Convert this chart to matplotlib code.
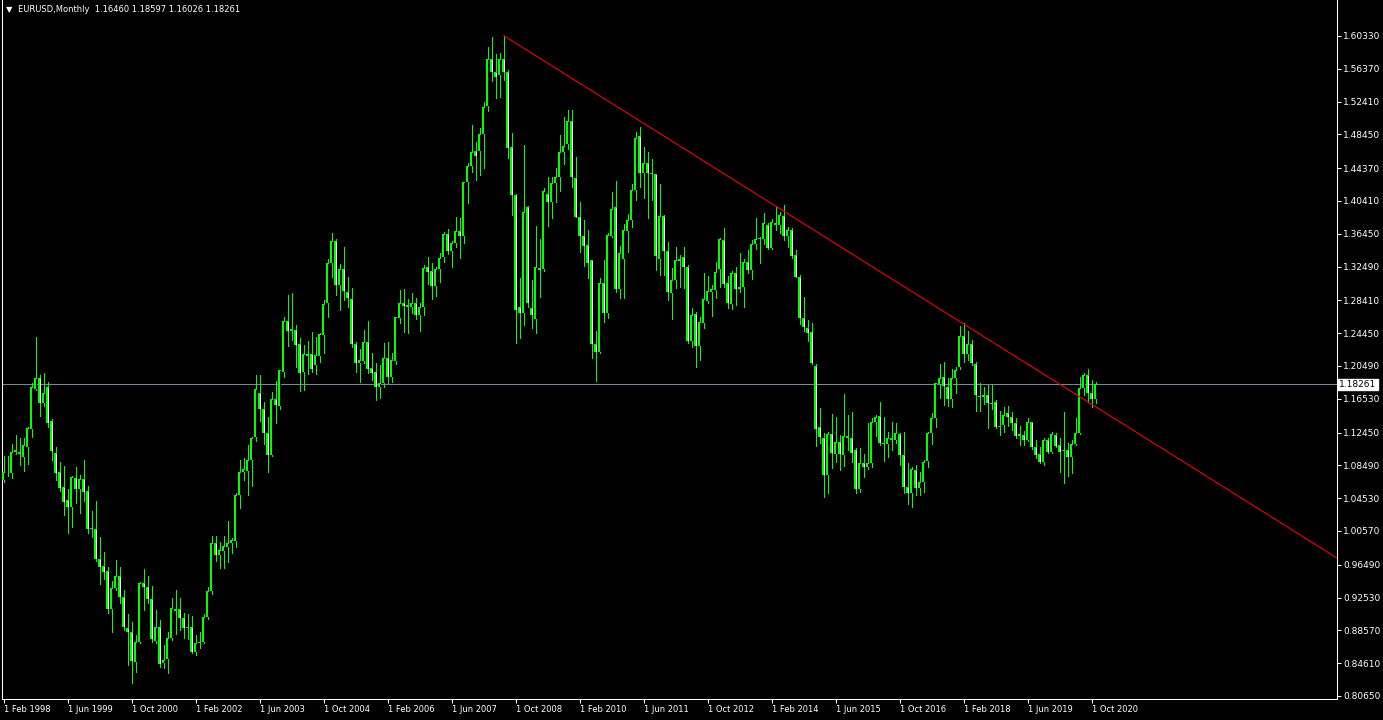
import matplotlib
matplotlib.use('Agg')
import matplotlib.pyplot as plt
import matplotlib.transforms as mtransforms
import numpy as np
import pandas as pd

plt.rcParams['font.family'] = 'DejaVu Sans'
plt.rcParams['font.size'] = 6.5

# ---- data (EURUSD monthly, Feb 1998 .. Nov 2020) ----
symbol = 'EURUSD,Monthly'
start_month = '1998-02-01'

opens = [
    1.0670, 1.0775, 1.0755, 1.1030, 1.1005, 1.0955, 1.1075, 1.1285, 1.1770, 1.1900, 1.1600,  # 1998
    1.1790, 1.1390, 1.0995, 1.0765, 1.0585, 1.0430, 1.0350, 1.0695, 1.0560, 1.0680, 1.0535, 1.0093,  # 1999
    1.0077, 0.9715, 0.9630, 0.9570, 0.9111, 0.9365, 0.9518, 0.9264, 0.8882, 0.8834, 0.8479, 0.8721,  # 2000
    0.9425, 0.9377, 0.9232, 0.8733, 0.8894, 0.8459, 0.8508, 0.8761, 0.9111, 0.9111, 0.9003, 0.8890,  # 2001
    0.8900, 0.8600, 0.8700, 0.8720, 0.9020, 0.9335, 0.9908, 0.9767, 0.9820, 0.9860, 0.9908, 0.9940,  # 2002
    1.0492, 1.0765, 1.0785, 1.0914, 1.1188, 1.1719, 1.1526, 1.1236, 1.0979, 1.1647, 1.1570, 1.1981,  # 2003
    1.2588, 1.2476, 1.2480, 1.2311, 1.1981, 1.2190, 1.2190, 1.2065, 1.2174, 1.2423, 1.2813, 1.3288,  # 2004
    1.3554, 1.3031, 1.3216, 1.2946, 1.2854, 1.2311, 1.2081, 1.2113, 1.2335, 1.2021, 1.1972, 1.1791,  # 2005
    1.1840, 1.2142, 1.1920, 1.2113, 1.2624, 1.2814, 1.2766, 1.2766, 1.2806, 1.2665, 1.2757, 1.3240,  # 2006
    1.3196, 1.3015, 1.3216, 1.3369, 1.3642, 1.3441, 1.3538, 1.3679, 1.3622, 1.4274, 1.4464, 1.4641,  # 2007
    1.4641, 1.4846, 1.5188, 1.5751, 1.5602, 1.5562, 1.5751, 1.5602, 1.4697, 1.4113, 1.2765, 1.2685,  # 2008
    1.3964, 1.2745, 1.2612, 1.3228, 1.3216, 1.4121, 1.4025, 1.4262, 1.4327, 1.4628, 1.4725, 1.5003,  # 2009
    1.4315, 1.3852, 1.3618, 1.3510, 1.3325, 1.2311, 1.2222, 1.3055, 1.2685, 1.3618, 1.3964, 1.2974,  # 2010
    1.3336, 1.3683, 1.3812, 1.4174, 1.4826, 1.4383, 1.4496, 1.4383, 1.4367, 1.3336, 1.3860, 1.3441,  # 2011
    1.2934, 1.3087, 1.3320, 1.3369, 1.3240, 1.2355, 1.2673, 1.2291, 1.2564, 1.2834, 1.2947, 1.2967,  # 2012
    1.3220, 1.3570, 1.3047, 1.2794, 1.3168, 1.2979, 1.3007, 1.3301, 1.3208, 1.3518, 1.3578, 1.3578,  # 2013
    1.3747, 1.3478, 1.3771, 1.3751, 1.3860, 1.3622, 1.3691, 1.3385, 1.3119, 1.2624, 1.2504, 1.2455,  # 2014
    1.2049, 1.1317, 1.1176, 1.0733, 1.1224, 1.0987, 1.1135, 1.0975, 1.1208, 1.1176, 1.1035, 1.0560,  # 2015
    1.0874, 1.0825, 1.0874, 1.1377, 1.1445, 1.1123, 1.1103, 1.1176, 1.1156, 1.1224, 1.0974, 1.0592,  # 2016
    1.0512, 1.0793, 1.0572, 1.0653, 1.0906, 1.1236, 1.1417, 1.1832, 1.1912, 1.1791, 1.1647, 1.1900,  # 2017
    1.2033, 1.2411, 1.2190, 1.2315, 1.2073, 1.1687, 1.1671, 1.1699, 1.1598, 1.1618, 1.1308, 1.1337,  # 2018
    1.1477, 1.1437, 1.1365, 1.1204, 1.1216, 1.1156, 1.1369, 1.1075, 1.0982, 1.0894, 1.1156, 1.1015,  # 2019
    1.1216, 1.1095, 1.1027, 1.1035, 1.0946, 1.1107, 1.1236, 1.1779, 1.1940, 1.1719, 1.16460,  # 2020
]
highs = [
    1.0960, 1.0960, 1.1105, 1.1215, 1.1185, 1.1175, 1.1315, 1.1840, 1.2395, 1.1940, 1.1960,
    1.1860, 1.1405, 1.1075, 1.0895, 1.0840, 1.0560, 1.0715, 1.0835, 1.0735, 1.0915, 1.0600, 1.0300,
    1.0420, 0.9990, 0.9800, 0.9626, 0.9457, 0.9707, 0.9618, 0.9345, 0.9055, 0.8962, 0.8801, 0.9437,
    0.9594, 0.9514, 0.9393, 0.9103, 0.8982, 0.8681, 0.8842, 0.9244, 0.9345, 0.9244, 0.9070, 0.9060,
    0.9030, 0.8800, 0.8840, 0.9060, 0.9380, 0.9995, 0.9997, 0.9928, 0.9997, 1.0178, 0.9968, 1.0520,
    1.0914, 1.0942, 1.1095, 1.1188, 1.1941, 1.1941, 1.1619, 1.1429, 1.1739, 1.1868, 1.2000, 1.2645,
    1.2906, 1.2926, 1.2544, 1.2383, 1.2303, 1.2355, 1.2459, 1.2395, 1.2444, 1.2846, 1.3337, 1.3659,
    1.3578, 1.3276, 1.3482, 1.3119, 1.2987, 1.2343, 1.2250, 1.2484, 1.2592, 1.2202, 1.2081, 1.2061,
    1.2323, 1.2343, 1.2202, 1.2640, 1.2966, 1.2974, 1.2854, 1.2934, 1.2866, 1.2814, 1.3268, 1.3361,
    1.3296, 1.3248, 1.3409, 1.3671, 1.3699, 1.3562, 1.3844, 1.3832, 1.4274, 1.4504, 1.4959, 1.4757,
    1.4918, 1.5232, 1.5896, 1.6017, 1.5816, 1.5832, 1.6038, 1.5623, 1.4858, 1.4130, 1.3107, 1.4717,
    1.3980, 1.3087, 1.3739, 1.3578, 1.4200, 1.4335, 1.4335, 1.4435, 1.4838, 1.5051, 1.5140, 1.5140,
    1.4568, 1.4033, 1.3812, 1.3691, 1.3329, 1.2471, 1.3107, 1.3329, 1.3659, 1.4154, 1.4282, 1.3498,
    1.3763, 1.3880, 1.4246, 1.4878, 1.4930, 1.4697, 1.4637, 1.4544, 1.4370, 1.4246, 1.3870, 1.3550,
    1.3228, 1.3490, 1.3389, 1.3490, 1.3268, 1.2745, 1.2700, 1.2637, 1.3168, 1.3136, 1.3027, 1.3309,
    1.3590, 1.3719, 1.3136, 1.3200, 1.3240, 1.3409, 1.3337, 1.3449, 1.3570, 1.3832, 1.3610, 1.3892,
    1.3771, 1.3820, 1.3973, 1.3912, 1.3993, 1.3723, 1.3711, 1.3449, 1.3148, 1.2878, 1.2604, 1.2564,
    1.2073, 1.1538, 1.1236, 1.1256, 1.1470, 1.1429, 1.1216, 1.1711, 1.1457, 1.1490, 1.1055, 1.1055,
    1.0987, 1.1365, 1.1417, 1.1457, 1.1610, 1.1437, 1.1256, 1.1369, 1.1357, 1.1244, 1.1256, 1.0874,
    1.0834, 1.0854, 1.0773, 1.0914, 1.1256, 1.1477, 1.1848, 1.2073, 1.2101, 1.1900, 1.2009, 1.2041,
    1.2532, 1.2564, 1.2475, 1.2363, 1.2101, 1.1848, 1.1791, 1.1820, 1.1815, 1.1638, 1.1510, 1.1558,
    1.1566, 1.1498, 1.1417, 1.1325, 1.1268, 1.1417, 1.1377, 1.1156, 1.1075, 1.1176, 1.1184, 1.1256,
    1.1236, 1.1176, 1.1490, 1.1123, 1.1156, 1.1417, 1.1920, 1.1968, 1.2009, 1.1880, 1.18597,
]
lows = [
    1.0650, 1.0715, 1.0695, 1.0990, 1.0855, 1.0785, 1.0865, 1.1190, 1.1760, 1.1445, 1.1560,
    1.1315, 1.0915, 1.0675, 1.0545, 1.0250, 1.0030, 1.0100, 1.0390, 1.0270, 1.0425, 1.0030, 0.9980,
    0.9700, 0.9420, 0.9480, 0.9063, 0.8842, 0.9345, 0.9192, 0.8862, 0.8439, 0.8226, 0.8359, 0.8701,
    0.9103, 0.9192, 0.8721, 0.8701, 0.8419, 0.8399, 0.8347, 0.8740, 0.8813, 0.8862, 0.8770, 0.8750,
    0.8580, 0.8565, 0.8640, 0.8700, 0.9000, 0.9300, 0.9700, 0.9607, 0.9607, 0.9687, 0.9795, 0.9860,
    1.0330, 1.0673, 1.0492, 1.0600, 1.1148, 1.1389, 1.1107, 1.0765, 1.0960, 1.1365, 1.1526, 1.1920,
    1.2290, 1.2363, 1.2041, 1.1751, 1.1759, 1.1948, 1.1981, 1.1952, 1.2100, 1.2210, 1.2645, 1.3128,
    1.2910, 1.2725, 1.2846, 1.2757, 1.2282, 1.1981, 1.1860, 1.2081, 1.1961, 1.1880, 1.1639, 1.1659,
    1.1799, 1.1840, 1.1860, 1.2070, 1.2564, 1.2463, 1.2451, 1.2685, 1.2612, 1.2476, 1.2665, 1.3039,
    1.2854, 1.2894, 1.3067, 1.3308, 1.3397, 1.3248, 1.3482, 1.3357, 1.3538, 1.4013, 1.4395, 1.4295,
    1.4355, 1.4435, 1.5127, 1.5494, 1.5280, 1.5293, 1.5502, 1.4556, 1.3872, 1.2323, 1.2383, 1.2544,
    1.2757, 1.2504, 1.2451, 1.2878, 1.3200, 1.3739, 1.3832, 1.4033, 1.4166, 1.4484, 1.4665, 1.4214,
    1.3844, 1.3429, 1.3256, 1.3107, 1.2142, 1.1872, 1.2202, 1.2584, 1.2624, 1.3602, 1.2946, 1.2866,
    1.2866, 1.3421, 1.3731, 1.4053, 1.4214, 1.4073, 1.3832, 1.4053, 1.3208, 1.3148, 1.3150, 1.2846,
    1.2612, 1.2987, 1.2999, 1.2987, 1.2331, 1.2282, 1.2041, 1.2121, 1.2504, 1.2806, 1.2653, 1.2866,
    1.3001, 1.3007, 1.2745, 1.2737, 1.2785, 1.2946, 1.2757, 1.3176, 1.3095, 1.3457, 1.3288, 1.3522,
    1.3457, 1.3457, 1.3691, 1.3651, 1.3570, 1.3490, 1.3357, 1.3119, 1.2556, 1.2476, 1.2355, 1.2073,
    1.1083, 1.1115, 1.0463, 1.0520, 1.0814, 1.0894, 1.0793, 1.0842, 1.1035, 1.0894, 1.0520, 1.0532,
    1.0705, 1.0810, 1.0825, 1.1204, 1.1095, 1.0906, 1.0954, 1.1035, 1.1115, 1.0854, 1.0512, 1.0383,
    1.0343, 1.0492, 1.0492, 1.0532, 1.0834, 1.1107, 1.1308, 1.1659, 1.1578, 1.1566, 1.1550, 1.1719,
    1.2009, 1.2101, 1.2121, 1.2061, 1.1506, 1.1510, 1.1590, 1.1296, 1.1530, 1.1296, 1.1216, 1.1256,
    1.1325, 1.1276, 1.1176, 1.1095, 1.1095, 1.1148, 1.1043, 1.0934, 1.0874, 1.0854, 1.1003, 1.1003,
    1.1075, 1.0773, 1.0632, 1.0721, 1.0761, 1.1100, 1.1228, 1.1699, 1.1618, 1.1558, 1.16026,
]
closes = [
    1.0770, 1.0765, 1.1015, 1.1005, 1.0985, 1.1100, 1.1305, 1.1800, 1.1900, 1.1600, 1.1720,
    1.1365, 1.1025, 1.0760, 1.0575, 1.0410, 1.0350, 1.0705, 1.0560, 1.0680, 1.0525, 1.0085, 1.0080,
    0.9715, 0.9628, 0.9566, 0.9111, 0.9365, 0.9518, 0.9264, 0.8894, 0.8841, 0.8491, 0.8721, 0.9425,
    0.9377, 0.9240, 0.8753, 0.8894, 0.8447, 0.8500, 0.8761, 0.9123, 0.9095, 0.9003, 0.8890, 0.8900,
    0.8600, 0.8700, 0.8720, 0.9020, 0.9335, 0.9908, 0.9767, 0.9828, 0.9876, 0.9916, 0.9948, 1.0492,
    1.0765, 1.0800, 1.0914, 1.1176, 1.1767, 1.1526, 1.1236, 1.0979, 1.1647, 1.1578, 1.1997, 1.2588,
    1.2476, 1.2496, 1.2307, 1.1969, 1.2190, 1.2174, 1.2017, 1.2178, 1.2431, 1.2797, 1.3288, 1.3554,
    1.3031, 1.3216, 1.2958, 1.2866, 1.2311, 1.2081, 1.2121, 1.2335, 1.2013, 1.1968, 1.1791, 1.1840,
    1.2142, 1.1920, 1.2121, 1.2636, 1.2814, 1.2773, 1.2786, 1.2806, 1.2665, 1.2766, 1.3236, 1.3188,
    1.3015, 1.3216, 1.3349, 1.3642, 1.3441, 1.3530, 1.3679, 1.3622, 1.4266, 1.4464, 1.4629, 1.4584,
    1.4846, 1.5172, 1.5751, 1.5602, 1.5542, 1.5751, 1.5602, 1.4677, 1.4113, 1.2725, 1.2685, 1.3912,
    1.2806, 1.2665, 1.3240, 1.3208, 1.4158, 1.4025, 1.4254, 1.4327, 1.4628, 1.4709, 1.5003, 1.4327,
    1.3852, 1.3622, 1.3502, 1.3288, 1.2311, 1.2222, 1.3055, 1.2685, 1.3630, 1.3940, 1.2974, 1.3409,
    1.3691, 1.3812, 1.4174, 1.4798, 1.4383, 1.4496, 1.4383, 1.4367, 1.3381, 1.3860, 1.3441, 1.2946,
    1.3087, 1.3329, 1.3336, 1.3240, 1.2355, 1.2661, 1.2291, 1.2576, 1.2854, 1.2954, 1.2979, 1.3184,
    1.3578, 1.3035, 1.2814, 1.3168, 1.2979, 1.2999, 1.3301, 1.3208, 1.3518, 1.3578, 1.3590, 1.3771,
    1.3478, 1.3792, 1.3751, 1.3872, 1.3622, 1.3691, 1.3377, 1.3127, 1.2624, 1.2516, 1.2443, 1.2089,
    1.1284, 1.1196, 1.0733, 1.1224, 1.0995, 1.1135, 1.0987, 1.1208, 1.1176, 1.1003, 1.0560, 1.0880,
    1.0830, 1.0874, 1.1377, 1.1437, 1.1123, 1.1103, 1.1176, 1.1156, 1.1236, 1.0974, 1.0592, 1.0512,
    1.0801, 1.0572, 1.0653, 1.0894, 1.1236, 1.1417, 1.1840, 1.1900, 1.1807, 1.1647, 1.1900, 1.2001,
    1.2411, 1.2190, 1.2315, 1.2081, 1.1699, 1.1671, 1.1699, 1.1598, 1.1590, 1.1308, 1.1325, 1.1457,
    1.1437, 1.1365, 1.1204, 1.1228, 1.1156, 1.1369, 1.1075, 1.0974, 1.0894, 1.1156, 1.1015, 1.1228,
    1.1083, 1.1015, 1.1035, 1.0946, 1.1107, 1.1236, 1.1779, 1.1940, 1.1719, 1.1646, 1.18261,
]

price_ticks = [1.60330, 1.56370, 1.52410, 1.48450, 1.44370, 1.40410, 1.36450,
               1.32490, 1.28410, 1.24450, 1.20490, 1.16530, 1.12450, 1.08490,
               1.04530, 1.00570, 0.96490, 0.92530, 0.88570, 0.84610, 0.80650]
date_tick_step = 16          # one date label every 16 bars
last_price = 1.18261
trend_bars = [125, 240]      # trendline anchors: Jul 2008 and Feb 2018 highs
trend_prices = [1.6038, 1.2556]

# ---- plot ----
LIME = '#00ff00'
n = len(closes)
x = np.arange(n)
o = np.array(opens)
h = np.array(highs)
l = np.array(lows)
c = np.array(closes)
months = pd.date_range(start_month, periods=n, freq='MS')

fig = plt.figure(figsize=(13.83, 7.2), dpi=100, facecolor='black')
ax = fig.add_axes([2 / 1383, 21 / 720, 1335 / 1383, 699 / 720])
ax.set_facecolor('black')

xmin, xmax = -0.425, 333.325
ymin, ymax = 0.80286, 1.64676
ax.set_xlim(xmin, xmax)
ax.set_ylim(ymin, ymax)
px = (ymax - ymin) / 699   # price per pixel

# wicks, then 3px lime bodies, then a 1px inner stripe (black = up, white = down)
ax.vlines(x, l, h, color=LIME, linewidth=0.72, antialiased=False, zorder=2)
bot = np.minimum(o, c)
top = np.maximum(o, c)
ax.bar(x, np.maximum(top - bot, px * 0.5), width=0.72, bottom=bot, color=LIME,
       linewidth=0, antialiased=False, zorder=3)
inner = (top - bot) > 2.5 * px
bull = c >= o
ax.vlines(x[inner], bot[inner] + px, top[inner] - px,
          colors=np.where(bull[inner], 'black', 'white'),
          linewidth=0.72, antialiased=False, zorder=4)

# current price line
ax.axhline(last_price, color='#778899', linewidth=0.75, zorder=1)

# trendline (ray to the right edge)
slope = (trend_prices[1] - trend_prices[0]) / (trend_bars[1] - trend_bars[0])
ax.plot([trend_bars[0], xmax],
        [trend_prices[0], trend_prices[0] + slope * (xmax - trend_bars[0])],
        color='red', linewidth=0.75, zorder=5)

# axes, ticks
for side in ['left', 'bottom', 'right']:
    ax.spines[side].set_color('white')
    ax.spines[side].set_linewidth(0.75)
ax.spines['top'].set_visible(False)

ax.yaxis.tick_right()
ax.set_yticks(price_ticks)
ax.set_yticklabels([f'{p:.5f}' for p in price_ticks])
xt = x[::date_tick_step]
ax.set_xticks(xt)
ax.set_xticklabels([f'{m.day} {m:%b %Y}' for m in months[xt]], ha='left')
ax.tick_params(axis='both', colors='white', labelcolor='white', length=3,
               width=0.75, direction='out', pad=1.5, labelsize=6.5)
ax.tick_params(axis='x', labelsize=6.0)

# current price label on the price scale
trans = mtransforms.blended_transform_factory(ax.transAxes, ax.transData)
ax.text(1.0015, last_price, f'{last_price:.5f}', transform=trans, ha='left',
        va='center', color='black', fontsize=6.5, zorder=10,
        bbox=dict(boxstyle='square,pad=0.15', facecolor='white', edgecolor='white'))

# header
fig.text(6 / 1383, 1 - 10 / 720, '\u25bc', color='white', fontsize=6, va='center')
fig.text(18 / 1383, 1 - 10 / 720,
         f'{symbol}  {opens[-1]:.5f} {highs[-1]:.5f} {lows[-1]:.5f} {closes[-1]:.5f}',
         color='white', fontsize=6.0, va='center')

plt.savefig('out.png', dpi=100, facecolor='black')
